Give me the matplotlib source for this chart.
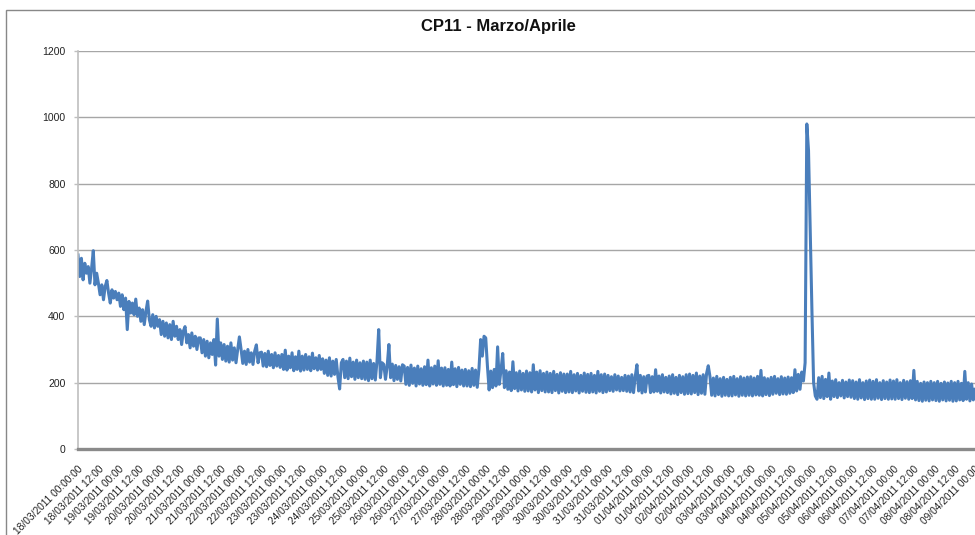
import numpy as np
import pandas as pd
import matplotlib
matplotlib.use("Agg")
import matplotlib.pyplot as plt
import matplotlib.transforms as mtransforms
from matplotlib.patches import Rectangle

# hourly readings, one row per half day, starting 18/03/2011 00:00
cp11_values = [
    585, 520, 575, 510, 560, 530, 550, 500, 545, 598, 495, 530,
    500, 465, 495, 450, 490, 508, 470, 440, 480, 455, 475, 450,
    470, 430, 465, 420, 455, 360, 445, 410, 440, 405, 452, 400,
    425, 385, 420, 375, 415, 446, 390, 370, 405, 365, 400, 370,
    390, 345, 385, 340, 380, 335, 375, 330, 385, 340, 370, 330,
    360, 315, 355, 369, 320, 345, 305, 350, 310, 340, 300, 335,
    335, 290, 330, 280, 325, 275, 320, 285, 330, 253, 392, 280,
    320, 270, 315, 265, 310, 262, 320, 268, 305, 260, 300, 338,
    300, 258, 295, 255, 300, 262, 290, 255, 295, 314, 260, 290,
    292, 250, 288, 248, 295, 252, 285, 245, 290, 250, 282, 246,
    285, 240, 298, 238, 280, 245, 290, 236, 278, 240, 295, 235,
    280, 238, 285, 240, 278, 236, 289, 242, 275, 238, 282, 240,
    272, 228, 268, 222, 275, 220, 265, 225, 270, 218, 181, 260,
    270, 215, 265, 212, 274, 218, 262, 210, 268, 215, 260, 212,
    265, 210, 262, 206, 268, 212, 258, 208, 265, 360, 215, 260,
    255, 210, 250, 315, 215, 256, 206, 252, 210, 248, 205, 254,
    250, 195, 246, 192, 253, 198, 244, 190, 250, 196, 242, 192,
    248, 194, 268, 190, 245, 196, 250, 192, 266, 195, 244, 190,
    245, 192, 240, 190, 262, 194, 242, 188, 246, 195, 238, 190,
    240, 190, 236, 188, 243, 192, 238, 186, 240, 330, 280, 340,
    335, 250, 178, 235, 185, 240, 190, 308, 195, 238, 288, 185,
    236, 180, 232, 176, 263, 182, 230, 175, 235, 178, 228, 174,
    235, 175, 230, 172, 254, 178, 232, 170, 236, 176, 228, 172,
    232, 172, 228, 170, 234, 176, 225, 169, 230, 174, 226, 170,
    226, 172, 234, 170, 224, 175, 228, 169, 222, 174, 229, 171,
    225, 170, 228, 172, 222, 169, 234, 174, 224, 170, 226, 172,
    222, 176, 218, 174, 224, 178, 220, 175, 216, 176, 222, 174,
    220, 172, 224, 170, 218, 254, 175, 222, 169, 218, 172, 220,
    222, 170, 218, 172, 239, 174, 220, 169, 224, 172, 216, 170,
    220, 166, 224, 168, 216, 164, 222, 170, 218, 165, 224, 167,
    226, 166, 222, 170, 229, 164, 220, 168, 224, 165, 228, 251,
    218, 162, 214, 160, 219, 164, 212, 159, 216, 162, 210, 160,
    216, 160, 219, 163, 212, 159, 218, 162, 214, 160, 217, 162,
    218, 160, 214, 163, 219, 162, 237, 160, 215, 164, 212, 161,
    216, 165, 219, 168, 212, 164, 218, 166, 214, 165, 217, 168,
    215, 170, 239, 175, 225, 180, 232, 205, 260, 980, 900, 660,
    420, 200, 160, 150, 215, 155, 219, 152, 210, 158, 229, 150,
    205, 158, 209, 155, 200, 160, 207, 154, 202, 158, 208, 156,
    206, 152, 202, 150, 209, 154, 200, 149, 205, 152, 208, 150,
    204, 150, 209, 153, 200, 149, 206, 152, 202, 150, 208, 151,
    205, 150, 209, 152, 200, 149, 207, 153, 203, 150, 206, 152,
    237, 148, 204, 146, 198, 144, 202, 147, 200, 145, 204, 148,
    200, 146, 204, 144, 198, 148, 202, 145, 199, 147, 204, 144,
    200, 145, 204, 148, 198, 146, 234, 150, 200, 145, 196, 148,
    180,
]
start = pd.Timestamp("2011-03-18 00:00")
times = pd.date_range(start, periods=len(cp11_values), freq="h")

tick_times = pd.date_range(start, "2011-04-09 00:00", freq="12h")
tick_labels = [t.strftime("%d/%m/%Y %H:%M") for t in tick_times]
tick_labels[0] = tick_times[0].strftime("%d/%m/%Y %H:%M:%S")

y_ticks = [0, 200, 400, 600, 800, 1000, 1200]

plt.rcParams["font.family"] = ["Liberation Sans", "DejaVu Sans"]
plt.rcParams["path.simplify"] = False

W, H = 975, 535
fig = plt.figure(figsize=(W / 100, H / 100), dpi=100)

# plot area runs past the right edge of the figure
x_end = pd.Timestamp("2011-04-09 12:00")
hours_span = (x_end - start) / pd.Timedelta(hours=1)
px_per_hour = (975 - 78) / 528
ax = fig.add_axes([78 / W, (H - 449) / H, hours_span * px_per_hour / W, 398 / H])

ax.plot(times, cp11_values, color="#4a7ebb", lw=2.2, solid_joinstyle="round")

ax.set_ylim(0, 1200)
ax.set_xlim(start, x_end)
ax.set_yticks(y_ticks)
ax.set_yticklabels([str(v) for v in y_ticks], fontsize=7.5, color="#222222")
ax.yaxis.grid(True, color="#a6a6a6", lw=1)
ax.set_axisbelow(True)

ax.set_xticks(tick_times)
ax.set_xticklabels(tick_labels, rotation=45, ha="right", va="top",
                   rotation_mode="anchor", fontsize=7.3, color="#222222")
shift = mtransforms.ScaledTranslation(-3 / 100, 0, fig.dpi_scale_trans)
for lbl in ax.get_xticklabels():
    lbl.set_transform(lbl.get_transform() + shift)
ax.tick_params(axis="x", length=0, pad=11)
ax.tick_params(axis="y", length=3, width=1, color="#bfbfbf", pad=6)

for side in ("top", "right"):
    ax.spines[side].set_visible(False)
ax.spines["left"].set_color("#bfbfbf")
ax.spines["left"].set_linewidth(1.2)
ax.spines["bottom"].set_color("#8a8a8a")
ax.spines["bottom"].set_linewidth(2.4)

fig.text(498 / W, 1 - 27 / H, "CP11 - Marzo/Aprile", ha="center", va="center",
         fontsize=12, fontweight="bold", color="#111111")

# chart frame, open towards the right and bottom
fig.add_artist(Rectangle((6 / W, -0.5), 2, 1.5 - 10 / H, transform=fig.transFigure,
                         fill=False, ec="#888888", lw=1))

fig.savefig("out.png", dpi=100)
